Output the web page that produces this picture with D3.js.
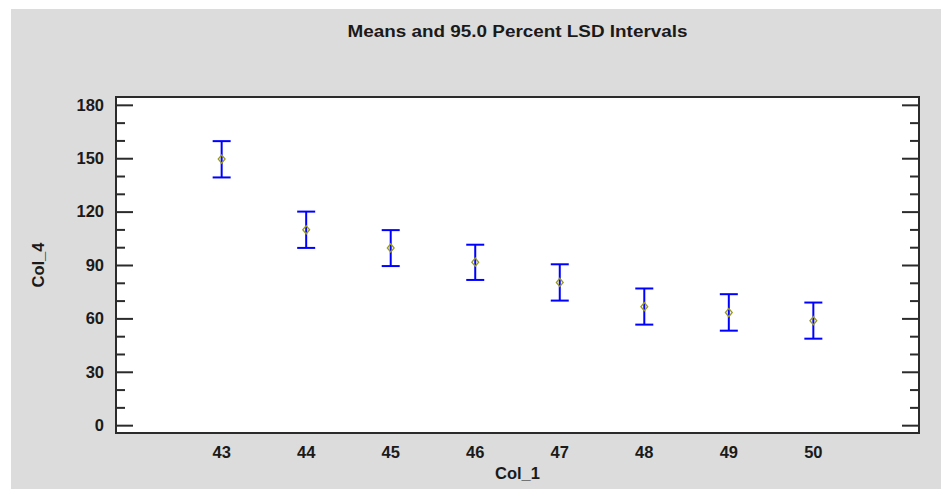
<!DOCTYPE html>
<html>
<head>
<meta charset="utf-8">
<script src="https://cdn.jsdelivr.net/npm/d3@7"></script>
<style>
  body { margin: 0; background: #ffffff; }
  text { font-family: "Liberation Sans", Arial, sans-serif; font-weight: bold; fill: #1a1a1a; }
</style>
</head>
<body>
<script>
// data
var levels = [43, 44, 45, 46, 47, 48, 49, 50];
var means  = [149.5, 109.8, 99.6, 91.6, 80.2, 66.6, 63.3, 58.7];
var lower  = [139.2, 99.6, 89.4, 81.6, 70.0, 56.5, 53.1, 48.6];
var upper  = [159.6, 120.0, 109.6, 101.4, 90.4, 76.8, 73.6, 68.9];
var yTicks = [0, 30, 60, 90, 120, 150, 180];
var yMinor = d3.range(0, 190, 10);

var W = 941, H = 489;
var frame = { left: 116, right: 919, top: 97, bottom: 433 };

var svg = d3.select("body").append("svg")
    .attr("width", W)
    .attr("height", H);

// grey panel with a thin white margin at top/left
svg.append("rect").attr("x", 0).attr("y", 0).attr("width", W).attr("height", H).attr("fill", "#ffffff");
svg.append("rect").attr("x", 11).attr("y", 9).attr("width", W - 11).attr("height", H - 9).attr("fill", "#dcdcdc");

var x = d3.scaleLinear().domain([41.75, 51.25]).range([frame.left, frame.right]);
var y = d3.scaleLinear().domain([-4.4, 184.4]).range([frame.bottom, frame.top]);

// plot area
svg.append("rect")
    .attr("x", frame.left).attr("y", frame.top)
    .attr("width", frame.right - frame.left)
    .attr("height", frame.bottom - frame.top)
    .attr("fill", "#ffffff")
    .attr("stroke", "#2b2b2b")
    .attr("stroke-width", 2);

//Left axis ticks (inside)
var yAxisL = d3.axisRight(y).tickValues(yMinor).tickFormat("")
    .tickSize(9).tickSizeOuter(0);
var gl = svg.append("g").attr("transform", "translate(" + frame.left + ",0)").call(yAxisL);
gl.select(".domain").remove();
gl.selectAll(".tick line")
    .attr("x2", function(d) { return yTicks.indexOf(d) >= 0 ? 17 : 9; })
    .attr("stroke", "#2b2b2b").attr("stroke-width", 2);

//Right axis ticks (inside)
var yAxisR = d3.axisLeft(y).tickValues(yMinor).tickFormat("")
    .tickSize(9).tickSizeOuter(0);
var gr = svg.append("g").attr("transform", "translate(" + frame.right + ",0)").call(yAxisR);
gr.select(".domain").remove();
gr.selectAll(".tick line")
    .attr("x2", function(d) { return yTicks.indexOf(d) >= 0 ? -17 : -9; })
    .attr("stroke", "#2b2b2b").attr("stroke-width", 2);

//Y labels
svg.append("g").selectAll("text")
    .data(yTicks)
    .enter().append("text")
    .attr("x", 104)
    .attr("y", function(d) { return y(d); })
    .attr("dy", "0.35em")
    .attr("text-anchor", "end")
    .attr("font-size", 16.5)
    .text(function(d) { return d; });

//X labels
svg.append("g").selectAll("text")
    .data(levels)
    .enter().append("text")
    .attr("x", function(d) { return x(d); })
    .attr("y", 452)
    .attr("dy", "0.35em")
    .attr("text-anchor", "middle")
    .attr("font-size", 16.5)
    .text(function(d) { return d; });

//Titles
svg.append("text")
    .attr("x", (frame.left + frame.right) / 2).attr("y", 31)
    .attr("dy", "0.35em")
    .attr("text-anchor", "middle")
    .attr("font-size", 16)
    .attr("textLength", 340)
    .attr("lengthAdjust", "spacingAndGlyphs")
    .text("Means and 95.0 Percent LSD Intervals");

svg.append("text")
    .attr("x", (frame.left + frame.right) / 2).attr("y", 473)
    .attr("dy", "0.35em")
    .attr("text-anchor", "middle")
    .attr("font-size", 16.5)
    .text("Col_1");

svg.append("text")
    .attr("transform", "translate(38,265) rotate(-90)")
    .attr("dy", "0.35em")
    .attr("text-anchor", "middle")
    .attr("font-size", 16.5)
    .text("Col_4");

//Error bars
var bars = svg.append("g").selectAll("g")
    .data(levels)
    .enter().append("g");

bars.append("line")
    .attr("x1", function(d) { return x(d); })
    .attr("x2", function(d) { return x(d); })
    .attr("y1", function(d, i) { return y(lower[i]); })
    .attr("y2", function(d, i) { return y(upper[i]); })
    .attr("stroke", "#0000ff").attr("stroke-width", 2);

[lower, upper].forEach(function(arr) {
    bars.append("line")
        .attr("x1", function(d) { return x(d) - 9; })
        .attr("x2", function(d) { return x(d) + 9; })
        .attr("y1", function(d, i) { return y(arr[i]); })
        .attr("y2", function(d, i) { return y(arr[i]); })
        .attr("stroke", "#0000ff").attr("stroke-width", 2);
});

//Mean markers
var marker = d3.symbol().type(d3.symbolDiamond).size(30);
bars.append("path")
    .attr("d", marker)
    .attr("transform", function(d, i) {
        return "translate(" + x(d) + "," + y(means[i]) + ") scale(1.15,0.8)";
    })
    .attr("fill", "none")
    .attr("stroke", "#9a9a20")
    .attr("stroke-width", 1.3);
</script>
</body>
</html>
